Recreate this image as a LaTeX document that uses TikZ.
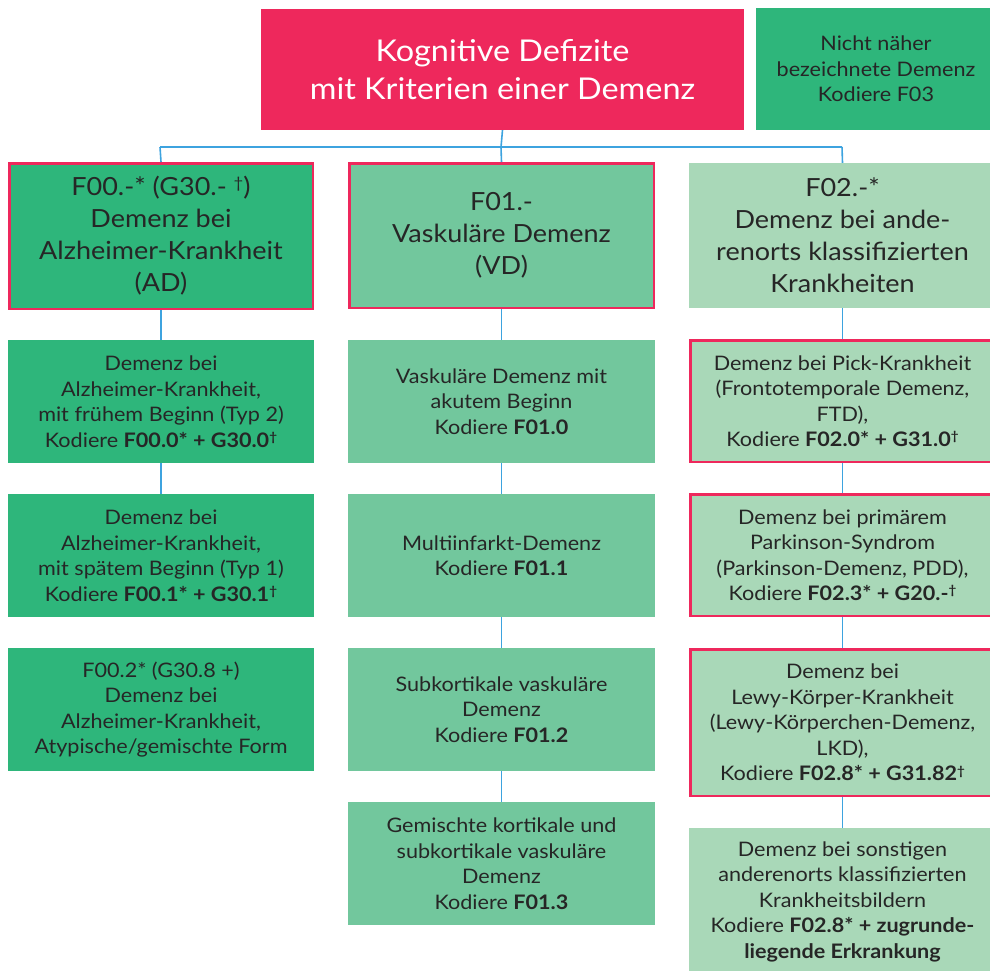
\documentclass[tikz,border=0pt]{standalone}
\usepackage{fontspec}
\setmainfont{Lato}[FakeStretch=1.08]
\definecolor{dred}{HTML}{EE285C}
\definecolor{gdark}{HTML}{2EB67B}
\definecolor{gmid}{HTML}{72C79D}
\definecolor{glight}{HTML}{A9D8B8}
\definecolor{linkblue}{HTML}{3DA3DF}
\definecolor{txt}{HTML}{262626}
\newcommand{\dg}{\raisebox{0.28em}{\scalebox{0.62}{†}}}
\tikzset{
  box/.style={rectangle, inner sep=0pt, align=center, text=txt,
    font=\fontsize{20}{25.5}\selectfont},
  head/.style={box, font=\fontsize{25}{32}\selectfont},
  redborder/.style={draw=dred, line width=2.5pt},
  link/.style={draw=linkblue, line width=1.6pt},
}
\begin{document}
\begin{tikzpicture}[x=1pt,y=-1pt]
\clip (0,0) rectangle (990,971);
\fill[white] (0,0) rectangle (990,971);
\coordinate (busL) at (160,147);
\coordinate (busM) at (501,147);
\coordinate (busR) at (842,147);
% nodes
\node[box, fill=dred, text=white, font=\fontsize{30}{38}\selectfont, minimum width=483pt, minimum height=121pt] (top) at (502.5,69.5) {Kognitive Defizite\\mit Kriterien einer Demenz};
\node[box, fill=gdark, minimum width=240pt, minimum height=122pt] (f03) at (876,69) {Nicht näher\\bezeichnete Demenz\\Kodiere F03};
\node[head, fill=gdark, redborder, minimum width=303.5pt, minimum height=145.5pt] (ad) at (161,236) {F00.-* (G30.- \dg)\\Demenz bei\\Alzheimer-Krankheit\\(AD)};
\node[head, fill=gmid, redborder, minimum width=304.5pt, minimum height=144.5pt] (vd) at (501.5,235.5) {F01.-\\Vaskuläre Demenz\\(VD)};
\node[head, fill=glight, minimum width=307pt, minimum height=145pt] (f02) at (842.5,235.5) {F02.-*\\Demenz bei ande-\\renorts klassifizierten\\Krankheiten};
% left column
\node[box, fill=gdark, minimum width=306pt, minimum height=123pt] (l1) at (161,401.5) {Demenz bei\\Alzheimer-Krankheit,\\mit frühem Beginn (Typ 2)\\Kodiere \textbf{F00.0* + G30.0\dg}};
\node[box, fill=gdark, minimum width=306pt, minimum height=123pt] (l2) at (161,555.5) {Demenz bei\\Alzheimer-Krankheit,\\mit spätem Beginn (Typ 1)\\Kodiere \textbf{F00.1* + G30.1\dg}};
\node[box, fill=gdark, minimum width=306pt, minimum height=123pt] (l3) at (161,709.5) {F00.2* (G30.8 +)\\Demenz bei\\Alzheimer-Krankheit,\\Atypische/gemischte Form};
% middle column
\node[box, fill=gmid, minimum width=307pt, minimum height=123pt] (m1) at (501.5,401.5) {Vaskuläre Demenz mit\\akutem Beginn\\Kodiere \textbf{F01.0}};
\node[box, fill=gmid, minimum width=307pt, minimum height=123pt] (m2) at (501.5,555.5) {Multiinfarkt-Demenz\\Kodiere \textbf{F01.1}};
\node[box, fill=gmid, minimum width=307pt, minimum height=123pt] (m3) at (501.5,709.5) {Subkortikale vaskuläre\\Demenz\\Kodiere \textbf{F01.2}};
\node[box, fill=gmid, minimum width=307pt, minimum height=123pt] (m4) at (501.5,863.5) {Gemischte kortikale und\\subkortikale vaskuläre\\Demenz\\Kodiere \textbf{F01.3}};
% right column
\node[box, fill=glight, redborder, minimum width=304.5pt, minimum height=121.5pt] (r1) at (842.5,401) {Demenz bei Pick-Krankheit\\(Frontotemporale Demenz,\\FTD),\\Kodiere \textbf{F02.0* + G31.0\dg}};
\node[box, fill=glight, redborder, minimum width=304.5pt, minimum height=121.5pt] (r2) at (842.5,555) {Demenz bei primärem\\Parkinson-Syndrom\\(Parkinson-Demenz, PDD),\\Kodiere \textbf{F02.3* + G20.-\dg}};
\node[box, fill=glight, redborder, minimum width=304.5pt, minimum height=146.5pt] (r3) at (842.5,722.5) {Demenz bei\\Lewy-Körper-Krankheit\\(Lewy-Körperchen-Demenz,\\LKD),\\Kodiere \textbf{F02.8* + G31.82\dg}};
\node[box, fill=glight, minimum width=307pt, minimum height=147pt] (r4) at (842.5,901.5) {Demenz bei sonstigen\\anderenorts klassifizierten\\Krankheitsbildern\\Kodiere \textbf{F02.8* + zugrunde-}\\\textbf{liegende Erkrankung}};
% connectors
\draw[link] (top.south) -- (busM);
\draw[link] (busL) -- (busR);
\draw[link] (busL) -- (ad.north);
\draw[link] (busM) -- (vd.north);
\draw[link] (busR) -- (f02.north);
\draw[link] (ad.south) -- (l1.north);
\draw[link] (l1.south) -- (l2.north);
\draw[link] (vd.south) -- (m1.north);
\draw[link] (m1.south) -- (m2.north);
\draw[link] (m2.south) -- (m3.north);
\draw[link] (m3.south) -- (m4.north);
\draw[link] (f02.south) -- (r1.north);
\draw[link] (r1.south) -- (r2.north);
\draw[link] (r2.south) -- (r3.north);
\draw[link] (r3.south) -- (r4.north);
\end{tikzpicture}
\end{document}
